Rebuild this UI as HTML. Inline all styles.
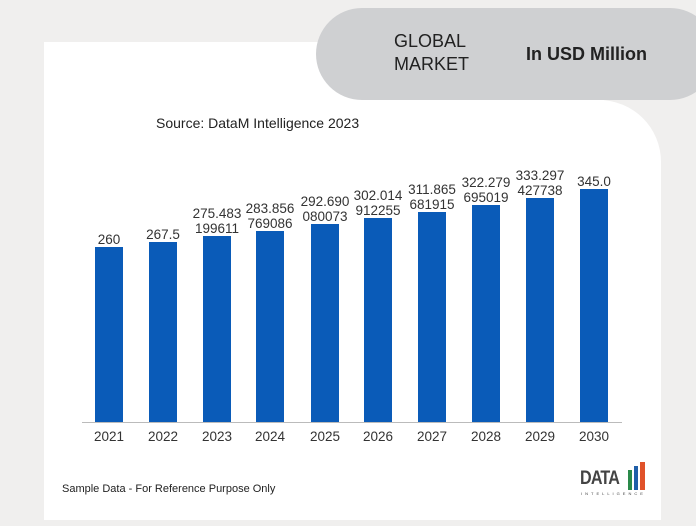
<!DOCTYPE html>
<html><head><style>
body{margin:0;width:696px;height:526px;background:#f0efee;position:relative;overflow:hidden;font-family:"Liberation Sans",sans-serif}
.card{position:absolute;left:44px;top:100px;width:617px;height:420px;background:#fff;border-top-right-radius:62px}
.card2{position:absolute;left:44px;top:42px;width:560px;height:80px;background:#fff}
.pill{position:absolute;left:316px;top:8px;width:400px;height:92px;background:#cfd0d2;border-radius:46px}
.t{position:absolute;color:#222}
.bar{position:absolute;background:#0a5bb8;width:28px}
.lb{position:absolute;width:80px;text-align:center;font-size:13.5px;color:#333;line-height:15px}
.yr{position:absolute;width:60px;text-align:center;font-size:13.5px;color:#333;top:429px}
</style></head><body>
<div class="card"></div>
<div class="card2"></div>
<div class="pill"></div>
<div class="t" style="left:394px;top:30px;font-size:18px;line-height:23px">GLOBAL<br>MARKET</div>
<div class="t" style="left:526px;top:44px;font-size:18px;font-weight:bold">In USD Million</div>
<div class="t" style="left:156px;top:115px;font-size:14px">Source: DataM Intelligence 2023</div>
<div style="position:absolute;left:82px;top:422px;width:540px;height:1px;background:#bbb"></div>
<div class="bar" style="left:95px;top:247px;height:175px"></div>
<div class="bar" style="left:149px;top:242px;height:180px"></div>
<div class="bar" style="left:203px;top:236px;height:186px"></div>
<div class="bar" style="left:256px;top:231px;height:191px"></div>
<div class="bar" style="left:311px;top:224px;height:198px"></div>
<div class="bar" style="left:364px;top:218px;height:204px"></div>
<div class="bar" style="left:418px;top:212px;height:210px"></div>
<div class="bar" style="left:472px;top:205px;height:217px"></div>
<div class="bar" style="left:526px;top:198px;height:224px"></div>
<div class="bar" style="left:580px;top:189px;height:233px"></div>
<div class="lb" style="left:69px;top:232px">260</div>
<div class="lb" style="left:123px;top:227px">267.5</div>
<div class="lb" style="left:177px;top:206px">275.483<br>199611</div>
<div class="lb" style="left:230px;top:201px">283.856<br>769086</div>
<div class="lb" style="left:285px;top:194px">292.690<br>080073</div>
<div class="lb" style="left:338px;top:188px">302.014<br>912255</div>
<div class="lb" style="left:392px;top:182px">311.865<br>681915</div>
<div class="lb" style="left:446px;top:175px">322.279<br>695019</div>
<div class="lb" style="left:500px;top:168px">333.297<br>427738</div>
<div class="lb" style="left:554px;top:174px">345.0</div>
<div class="yr" style="left:79px">2021</div>
<div class="yr" style="left:133px">2022</div>
<div class="yr" style="left:187px">2023</div>
<div class="yr" style="left:240px">2024</div>
<div class="yr" style="left:295px">2025</div>
<div class="yr" style="left:348px">2026</div>
<div class="yr" style="left:402px">2027</div>
<div class="yr" style="left:456px">2028</div>
<div class="yr" style="left:510px">2029</div>
<div class="yr" style="left:564px">2030</div>
<div class="t" style="left:62px;top:483px;font-size:11px">Sample Data - For Reference Purpose Only</div>
<div class="t" style="left:580px;top:468px;font-size:19px;font-weight:bold;color:#444;letter-spacing:-1px;transform:scaleX(0.85);transform-origin:left">DATA</div>
<div style="position:absolute;left:628px;top:470px;width:4px;height:20px;background:#2a8a4a"></div>
<div style="position:absolute;left:634px;top:466px;width:4px;height:24px;background:#1f5fa8"></div>
<div style="position:absolute;left:640px;top:462px;width:5px;height:28px;background:#e0522a"></div>
<div class="t" style="left:581px;top:491px;font-size:4px;letter-spacing:3px;color:#444">INTELLIGENCE</div>
</body></html>
